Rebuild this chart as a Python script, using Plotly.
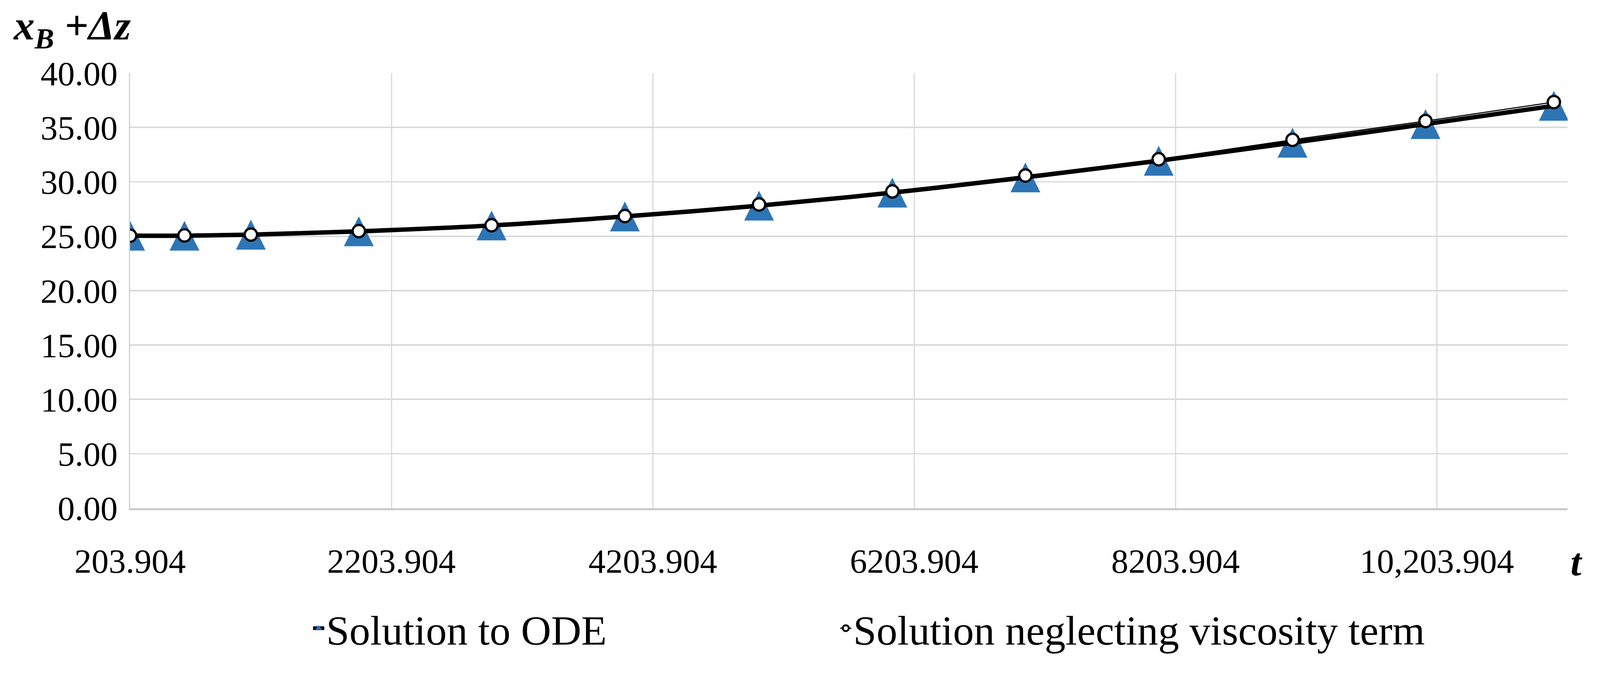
import plotly.graph_objects as go

# ---- data ----
t_values = [203.904, 620, 1128, 1954, 2970, 3990, 5017, 6037, 7055, 8075, 9099, 10117, 11099]
ode_values = [25.05, 25.05, 25.14, 25.45, 25.99, 26.82, 27.81, 29.01, 30.41, 31.94, 33.60, 35.31, 36.99]
noviscosity_values = [25.05, 25.07, 25.15, 25.47, 26.01, 26.85, 27.92, 29.12, 30.58, 32.08, 33.86, 35.59, 37.33]

x_tickvals = [203.904, 2203.904, 4203.904, 6203.904, 8203.904, 10203.904]
x_ticktext = ["203.904", "2203.904", "4203.904", "6203.904", "8203.904", "10,203.904"]
x_range = [203.904, 11203.904]
y_range = [0, 40]

series_names = ["Solution to ODE", "Solution neglecting viscosity term"]

W, H = 4292, 1779
FONT = "Times New Roman, Liberation Serif, serif"
BLUE = "#2E75B6"
TRI = 80  # triangle marker size (px)

fig = go.Figure()

# legend entry for the ODE series (line + triangle)
fig.add_trace(go.Scatter(
    x=[None], y=[None], mode="lines+markers",
    name=series_names[0] + "\u00a0" * 22,
    line=dict(color="black", width=12),
    marker=dict(symbol="triangle-up", size=30, color=BLUE, line=dict(width=0)),
    hoverinfo="skip",
))
# ODE triangles (upright, centred on the point like Excel's)
fig.add_trace(go.Scatter(
    x=t_values, y=ode_values, mode="markers", showlegend=False,
    name=series_names[0],
    marker=dict(symbol="arrow-down", angle=180, standoff=TRI / 2, size=TRI,
                color=BLUE, line=dict(width=0)),
))
# ODE thick smoothed line, drawn over the triangles
fig.add_trace(go.Scatter(
    x=t_values, y=ode_values, mode="lines", showlegend=False, hoverinfo="skip",
    line=dict(color="black", width=12, shape="spline", smoothing=1),
))
# Neglecting viscosity: thin black line with white circles
fig.add_trace(go.Scatter(
    x=t_values, y=noviscosity_values, mode="lines+markers",
    name=series_names[1],
    line=dict(color="black", width=3, shape="spline", smoothing=1),
    marker=dict(symbol="circle", size=33, color="white", line=dict(color="black", width=6)),
))

fig.update_layout(
    width=W, height=H, autosize=False,
    paper_bgcolor="white", plot_bgcolor="white",
    margin=dict(l=349, r=87, t=196, b=416),
    font=dict(family=FONT, size=92, color="black"),
    showlegend=True,
    legend=dict(
        orientation="h", x=0.126, xanchor="left", y=-0.276, yanchor="middle",
        font=dict(family=FONT, size=112, color="black"),
        bgcolor="rgba(0,0,0,0)", itemsizing="trace",
    ),
)

fig.update_xaxes(
    range=x_range, tickvals=x_tickvals, ticktext=x_ticktext,
    showgrid=True, gridcolor="#D9D9D9", gridwidth=3,
    showline=True, linecolor="#C8C8C8", linewidth=5,
    zeroline=False, ticks="", ticklabelstandoff=58,
    tickfont=dict(family=FONT, size=92, color="black"),
)
fig.update_yaxes(
    range=y_range, dtick=5, tick0=0, tickformat=".2f",
    showgrid=True, gridcolor="#D9D9D9", gridwidth=4,
    showline=True, linecolor="#D0D0D0", linewidth=3,
    zeroline=False, ticks="", ticklabelstandoff=12,
    tickfont=dict(family=FONT, size=92, color="black"),
)

fig.add_annotation(
    xref="paper", yref="paper", x=-0.0820, y=1.102, xanchor="left", yanchor="middle",
    text="<b><i>x<sub>B</sub> +Δz</i></b>", showarrow=False,
    font=dict(family=FONT, size=112, color="black"),
)
fig.add_annotation(
    xref="paper", yref="paper", x=1.0062, y=-0.124, xanchor="center", yanchor="middle",
    text="<b><i>t</i></b>", showarrow=False,
    font=dict(family=FONT, size=105, color="black"),
)

# fit the fixed-size figure exactly into the browser viewport
post_js = (
    "document.documentElement.style.margin='0';"
    "document.body.style.margin='0';"
    "document.body.style.overflow='hidden';"
    "document.documentElement.style.overflow='hidden';"
    "var gd=document.getElementById('{plot_id}');"
    "var s=Math.min(window.innerWidth/%d, window.innerHeight/%d);"
    "gd.style.transformOrigin='0 0';"
    "gd.style.transform='scale('+s+')';" % (W, H)
)

fig.write_html("out.html", post_script=post_js, config={"displayModeBar": False})
